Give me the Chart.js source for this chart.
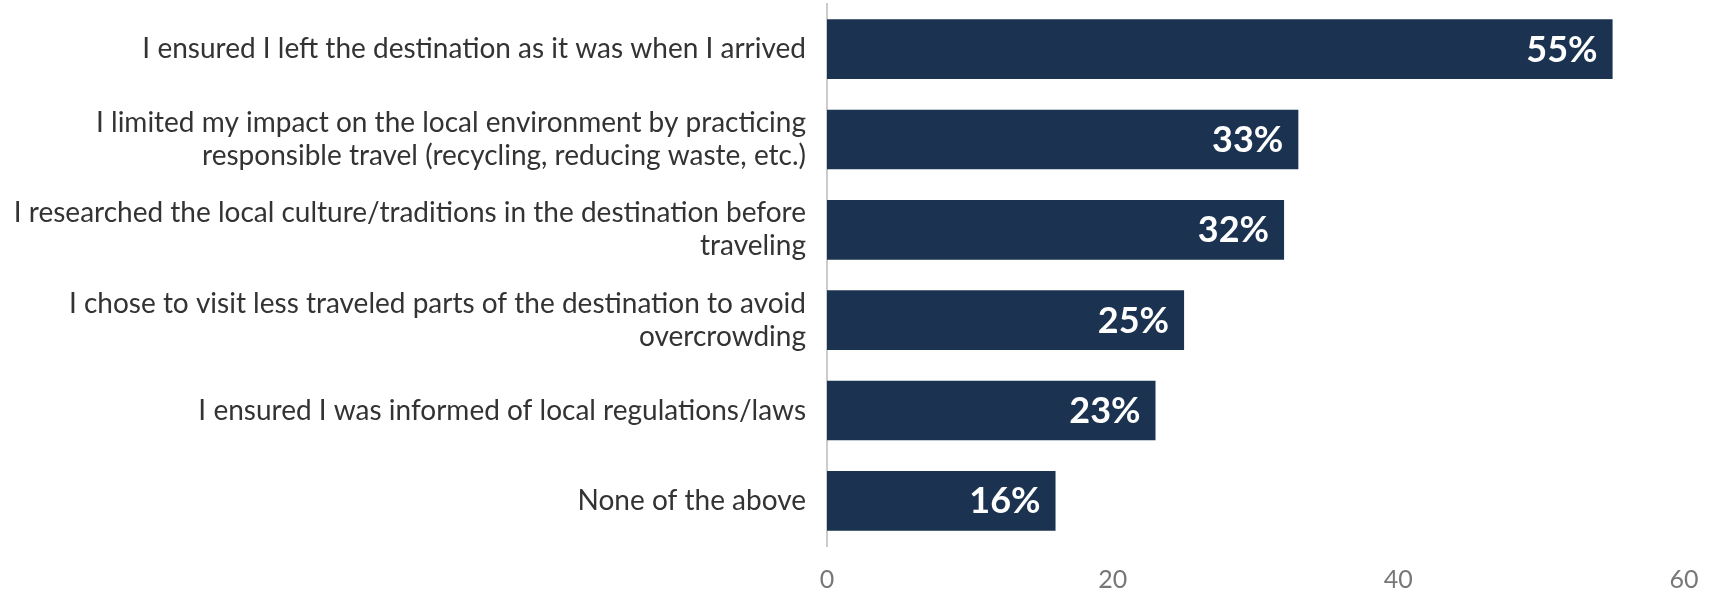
<!DOCTYPE html>
<html>
<head>
<meta charset="utf-8">
<script src="https://cdn.jsdelivr.net/npm/chart.js@4.4.1/dist/chart.umd.min.js"></script>
<style>
  html, body { margin: 0; padding: 0; background: #ffffff; }
  #wrap { width: 1713px; height: 593px; position: relative; }
</style>
</head>
<body>
<div id="wrap"><canvas id="actionsChart"></canvas></div>
<script>
// Survey answers, top to bottom
const categories = [
    ['I ensured I left the destination as it was when I arrived'],
    ['I limited my impact on the local environment by practicing', 'responsible travel (recycling, reducing waste, etc.)'],
    ['I researched the local culture/traditions in the destination before', 'traveling'],
    ['I chose to visit less traveled parts of the destination to avoid', 'overcrowding'],
    ['I ensured I was informed of local regulations/laws'],
    ['None of the above']
];
const shares = [55, 33, 32, 25, 23, 16];
const axisTicks = [0, 20, 40, 60];

const barColor = '#1b3350';

// Writes the percentage inside the right end of every bar
const valueLabels = {
    id: 'valueLabels',
    afterDatasetsDraw(chart) {
        const ctx = chart.ctx;
        const meta = chart.getDatasetMeta(0);
        ctx.save();
        ctx.font = 'bold 36px Lato';
        ctx.fillStyle = '#ffffff';
        ctx.textAlign = 'right';
        ctx.textBaseline = 'middle';
        meta.data.forEach((bar, i) => {
            ctx.fillText(shares[i] + '%', bar.x - 15, bar.y + 1);
        });
        ctx.restore();
    }
};

document.addEventListener('DOMContentLoaded', () => {
    const ctx = document.getElementById('actionsChart').getContext('2d');

    new Chart(ctx, {
        type: 'bar',
        data: {
            labels: categories,
            datasets: [{
                data: shares,
                backgroundColor: barColor,
                borderWidth: 0,
                categoryPercentage: 1,
                barPercentage: 0.66
            }]
        },
        options: {
            indexAxis: 'y',
            responsive: true,
            maintainAspectRatio: false,
            animation: false,
            layout: { padding: { top: 4, right: 29, left: 0, bottom: 0 } },
            plugins: {
                legend: { display: false },
                tooltip: { enabled: false }
            },
            scales: {
                x: {
                    min: 0,
                    max: 60,
                    afterBuildTicks(scale) {
                        scale.ticks = axisTicks.map(v => ({ value: v }));
                    },
                    afterFit(scale) {
                        scale.height = 47;
                        scale.paddingLeft = 0;
                        scale.paddingRight = 0;
                    },
                    grid: { display: false, drawTicks: false },
                    border: { display: false },
                    ticks: {
                        padding: 19,
                        color: '#777777',
                        font: { family: 'Lato', size: 25 }
                    }
                },
                y: {
                    afterFit(scale) {
                        scale.width = 827;
                        scale.paddingTop = 0;
                        scale.paddingBottom = 0;
                    },
                    grid: { display: false, drawTicks: false },
                    border: { display: true, color: '#cccccc', width: 2 },
                    ticks: {
                        padding: 21,
                        color: '#333333',
                        font: { family: 'Lato', size: 28, lineHeight: 1.18 }
                    }
                }
            }
        },
        plugins: [valueLabels]
    });
});
</script>
</body>
</html>
